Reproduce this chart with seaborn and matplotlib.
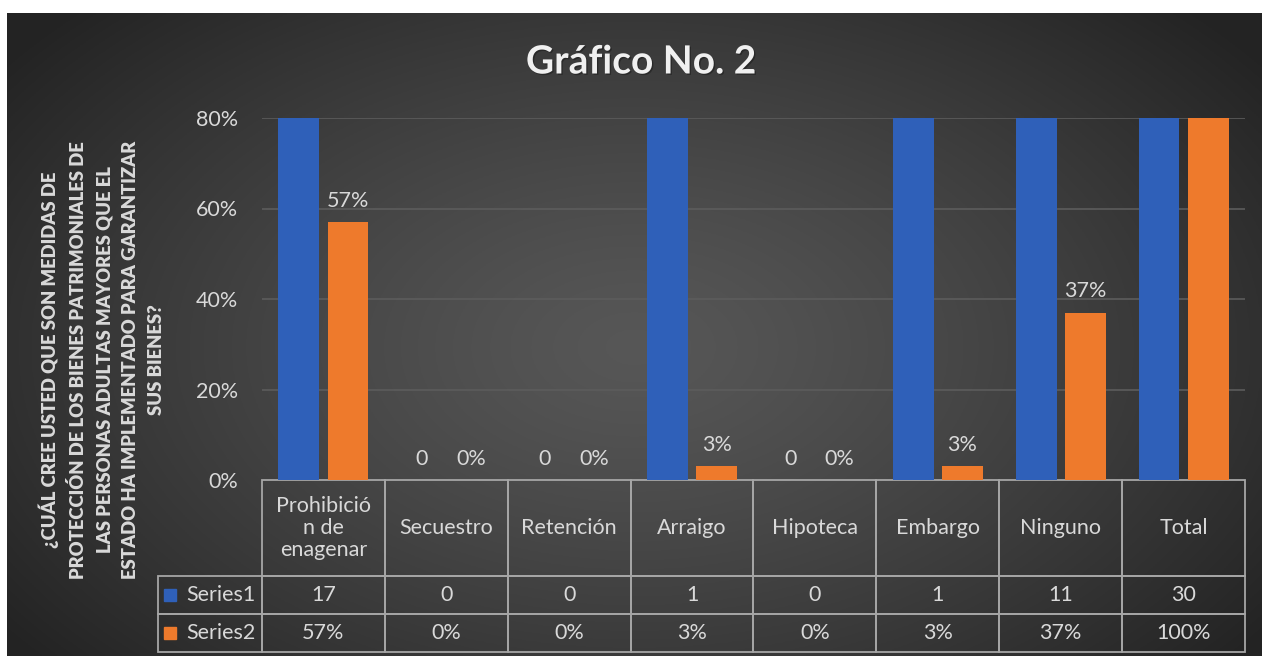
import numpy as np
import pandas as pd
import matplotlib
matplotlib.use('Agg')
import matplotlib.pyplot as plt
import matplotlib.patheffects as pe
import seaborn as sns

# Chart data
categories = ['Prohibición de enagenar', 'Secuestro', 'Retención', 'Arraigo',
              'Hipoteca', 'Embargo', 'Ninguno', 'Total']
header_labels = ['Prohibició\nn de\nenagenar', 'Secuestro', 'Retención', 'Arraigo',
                 'Hipoteca', 'Embargo', 'Ninguno', 'Total']
series1 = [17, 0, 0, 1, 0, 1, 11, 30]
series2 = [0.57, 0, 0, 0.03, 0, 0.03, 0.37, 1.00]
series_names = ['Series1', 'Series2']
yticks = [0, 0.2, 0.4, 0.6, 0.8]

title = 'Gráfico No. 2'
ylabel = ('¿CUÁL CREE USTED QUE SON MEDIDAS DE\n'
          'PROTECCIÓN DE LOS BIENES PATRIMONIALES DE\n'
          'LAS PERSONAS ADULTAS MAYORES QUE EL\n'
          'ESTADO HA IMPLEMENTADO PARA GARANTIZAR\n'
          'SUS BIENES?')

blue = '#2f60b9'
orange = '#ee7a2c'
txt = '#d9d9d9'
fs = 15.5

plt.rcParams['font.family'] = ['Lato', 'DejaVu Sans']

df = pd.DataFrame({
    'cat': categories * 2,
    'val': series1 + series2,
    'series': [series_names[0]] * len(categories) + [series_names[1]] * len(categories),
})

W, H = 1262, 656
fig = plt.figure(figsize=(W / 100, H / 100), dpi=100)
fig.patch.set_facecolor('white')

# dark radial background of the chart area
bg = fig.add_axes([7 / W, 0, 1 - 7 / W, 1 - 13 / H])
yy, xx = np.mgrid[0:1:300j, 0:1:600j]
r = np.sqrt(((xx - 0.5) / 0.62) ** 2 + ((yy - 0.52) / 0.75) ** 2)
shade = 0.34 - 0.20 * np.clip(r, 0, 1) ** 1.3
bg.imshow(np.dstack([shade] * 3), aspect='auto', extent=[0, 1, 0, 1])
bg.set_axis_off()

ax = fig.add_axes([262 / W, 1 - 480 / H, 983 / W, 362 / H])
ax.set_facecolor('none')

sns.barplot(data=df, x='cat', y='val', hue='series', palette=[blue, orange],
            gap=0.17, width=0.8, legend=False, ax=ax, saturation=1, zorder=3)

ax.set_ylim(0, 0.8)
ax.set_xlim(-0.5, len(categories) - 0.5)
ax.set_yticks(yticks)
ax.set_yticklabels([f'{int(round(t * 100))}%' for t in yticks])
ax.tick_params(axis='y', length=0, pad=17, labelsize=fs, labelcolor=txt)
ax.set_xticks([])
ax.set_xlabel('')
ax.set_ylabel('')
for s in ax.spines.values():
    s.set_visible(False)
for t in yticks[1:]:
    ax.axhline(t, color='#5c5c5c', lw=1.2, zorder=1)

# data labels (only those that fit inside the axis)
labels1 = [str(v) if v <= 0.8 else '' for v in series1]
labels2 = [f'{int(round(v * 100))}%' if v <= 0.8 else '' for v in series2]
ax.bar_label(ax.containers[0], labels=labels1, padding=8, color=txt, fontsize=fs)
ax.bar_label(ax.containers[1], labels=labels2, padding=8, color=txt, fontsize=fs)

# data table
cell_text = [[''] + header_labels,
             ['Series1'] + [str(v) for v in series1],
             ['Series2'] + [f'{int(round(v * 100))}%' for v in series2]]
tb = ax.table(cellText=cell_text, cellLoc='center',
              bbox=[-104 / 983, -172 / 362, 1087 / 983, 172 / 362])
tb.auto_set_font_size(False)
tb.set_fontsize(fs)
for (r_, c_), cell in tb.get_celld().items():
    cell.set_facecolor('none')
    cell.set_edgecolor('#a6a6a6')
    cell.set_linewidth(1.3)
    cell.set_width(104 if c_ == 0 else 123)
    cell.set_height(96 if r_ == 0 else 38)
    cell.get_text().set_color(txt)
    cell.get_text().set_linespacing(1.15)
    if r_ == 0 and c_ == 0:
        cell.visible_edges = 'open'
    if r_ > 0 and c_ == 0:
        cell._loc = 'right'
        cell.PAD = 0.06
        cell.get_text().set_horizontalalignment('right')

# legend keys in the table
for i, col in enumerate([blue, orange]):
    fig.lines.append(plt.Line2D([170 / W], [1 - (595 + 38 * i) / H], marker='s',
                                markersize=9, color=col, transform=fig.transFigure))

fig.text(641 / W, 1 - 62 / H, title, ha='center', va='center', fontsize=28,
         fontweight='bold', color='#f0f0f0',
         path_effects=[pe.withSimplePatchShadow(offset=(1, -1), shadow_rgbFace='black', alpha=0.3)])
fig.text(102 / W, 1 - 360 / H, ylabel, rotation=90, ha='center', va='center',
         multialignment='center', fontsize=13.3, fontweight='heavy', color=txt,
         linespacing=1.65)

fig.savefig('out.png', dpi=100)
